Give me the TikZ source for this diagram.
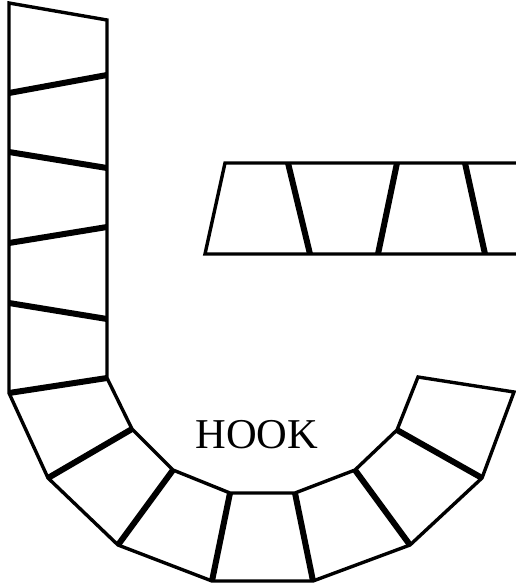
\documentclass[tikz,border=0pt]{standalone}
\usepackage{fontspec}
\setmainfont{Liberation Serif}
\begin{document}
\begin{tikzpicture}[x=1pt,y=-1pt,
  thinline/.style={line width=3.4pt,line join=miter},
  thickline/.style={line width=6pt,line cap=butt},
  label/.style={font=\fontsize{42.5}{46}\selectfont,inner sep=0pt}]
\useasboundingbox (0,0) rectangle (516,587);
% hook coordinates
\coordinate (L0) at (9,3);    \coordinate (R0) at (107,20);
\coordinate (L1) at (9,93);   \coordinate (R1) at (107,75);
\coordinate (L2) at (9,152);  \coordinate (R2) at (107,168);
\coordinate (L3) at (9,243);  \coordinate (R3) at (107,227);
\coordinate (L4) at (9,303);  \coordinate (R4) at (107,319);
\coordinate (L5) at (9,393);  \coordinate (R5) at (107,378);
\coordinate (O6) at (48,478); \coordinate (I6) at (132,429);
\coordinate (O7) at (118,545);\coordinate (I7) at (173,470);
\coordinate (O8) at (212,581);\coordinate (I8) at (230,493);
\coordinate (O9) at (313,581);\coordinate (I9) at (295,493);
\coordinate (O10) at (410,545);\coordinate (I10) at (355,470);
\coordinate (O11) at (482,478);\coordinate (I11) at (397,430);
\coordinate (O12) at (514,392);\coordinate (I12) at (418,377);
\draw[thinline] (L0) -- (L5) -- (O6) -- (O7) -- (O8) -- (O9) -- (O10) -- (O11) -- (O12)
  -- (I12) -- (I11) -- (I10) -- (I9) -- (I8) -- (I7) -- (I6) -- (R5) -- (R0) -- cycle;
\foreach \a/\b in {L1/R1,L2/R2,L3/R3,L4/R4,L5/R5,O6/I6,O7/I7,O8/I8,O9/I9,O10/I10,O11/I11}
  \draw[thickline] (\a) -- (\b);
% straight piece
\coordinate (TL) at (225,163); \coordinate (TR) at (520,163);
\coordinate (BL) at (205,254); \coordinate (BR) at (520,254);
\coordinate (T1) at (288,163); \coordinate (B1) at (310,254);
\coordinate (T2) at (397,163); \coordinate (B2) at (378,254);
\coordinate (T3) at (465,163); \coordinate (B3) at (485,254);
\draw[thinline] (TR) -- (TL) -- (BL) -- (BR);
\foreach \a/\b in {T1/B1,T2/B2,T3/B3}
  \draw[thickline] (\a) -- (\b);
\node[label] (hook) at (257,435) {HOOK};
\end{tikzpicture}
\end{document}
